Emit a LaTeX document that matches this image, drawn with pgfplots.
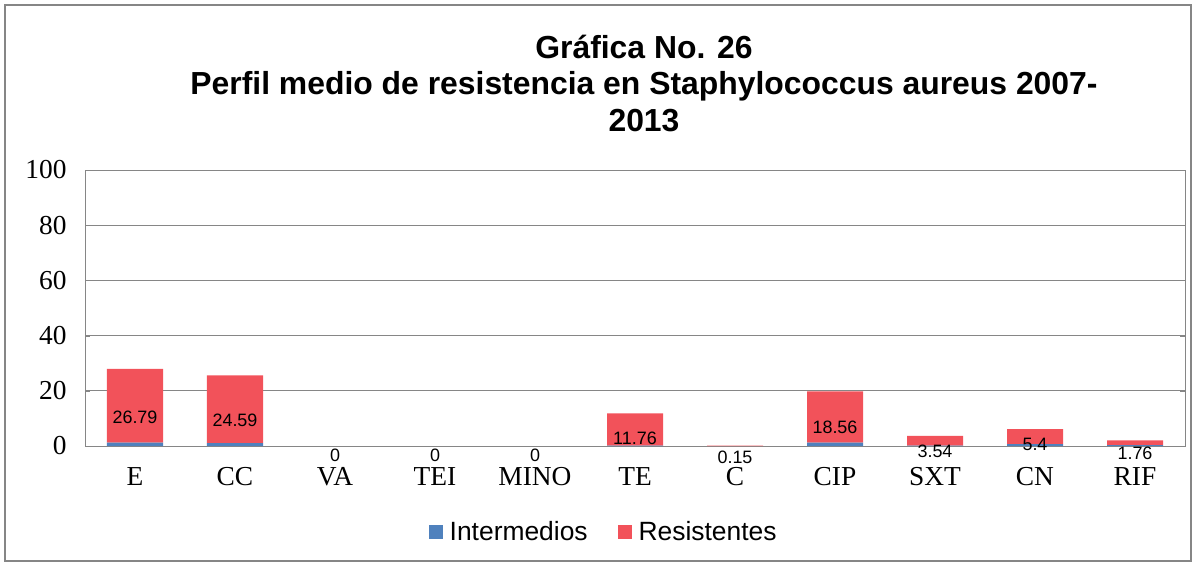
\documentclass[border=0pt]{standalone}
\usepackage{pgfplots}
\pgfplotsset{compat=1.18}
\usepackage{pgfplotstable}
\usepackage{fontspec}
\setmainfont{Liberation Serif}
\newfontfamily\arial{Liberation Sans}
\definecolor{inter}{RGB}{79,129,189}
\definecolor{resis}{RGB}{242,82,90}
\definecolor{gridgray}{RGB}{134,134,134}

\pgfplotstableread{
x inter resis
0 1.2 26.79
1 1.0 24.59
2 0 0
3 0 0
4 0 0
5 0.1 11.76
6 0 0.15
7 1.2 18.56
8 0.1 3.54
9 0.7 5.4
10 0.3 1.76
}\datatab

\pgfplotstableread{
x y lab
0 10.5 26.79
1 9.4 24.59
2 -3.5 0
3 -3.5 0
4 -3.5 0
5 2.9 11.76
6 -4.0 0.15
7 6.9 18.56
8 -1.8 3.54
9 0.4 5.4
10 -2.5 1.76
}\labtab

\begin{document}
\begin{tikzpicture}
\useasboundingbox (0bp,0bp) rectangle (1197bp,-566bp);
\draw[gridgray, line width=1.5bp] (5bp,-5bp) rectangle (1191bp,-561bp);
\node[font=\arial\bfseries\fontsize{32}{36.5}\selectfont, align=center, anchor=base] at (644bp,-131bp)
  {Gráfica No. 26\\Perfil medio de resistencia en Staphylococcus aureus 2007-\\2013};
\begin{axis}[
  at={(85bp,-446bp)}, anchor=south west,
  scale only axis, width=1100bp, height=276bp,
  ybar stacked, bar width=56bp,
  xmin=-0.5, xmax=10.5, ymin=0, ymax=100,
  ytick={0,20,...,100},
  xtick={0,...,10},
  xticklabels={E,CC,VA,TEI,MINO,TE,C,CIP,SXT,CN,RIF},
  /pgf/number format/assume math mode=true,
  tick label style={font=\fontsize{27.5}{30}\selectfont},
  xticklabel style={yshift=-18bp},
  yticklabel style={xshift=-15bp},
  xtick style={draw=none},
  ytick style={draw=gridgray},
  major tick length=5bp,
  ymajorgrids, grid style={gridgray, line width=1bp},
  axis line style={gridgray, line width=1bp},
  legend style={at={(0.4715,-0.312)}, anchor=center, draw=none,
    font=\arial\fontsize{26.5}{30}\selectfont, legend columns=2,
    /tikz/every odd column/.append style={column sep=5bp},
    /tikz/every even column/.append style={column sep=28bp}},
  legend image code/.code={\fill[#1] (0bp,-7bp) rectangle (14bp,7bp);},
  clip=false,
]
\addplot[fill=inter, draw=none] table[x=x, y=inter] {\datatab};
\addlegendentry{Intermedios}
\addplot[fill=resis, draw=none] table[x=x, y=resis] {\datatab};
\addlegendentry{Resistentes}
\end{axis}
\begin{axis}[
  at={(85bp,-446bp)}, anchor=south west,
  scale only axis, width=1100bp, height=276bp,
  xmin=-0.5, xmax=10.5, ymin=0, ymax=100,
  hide axis, clip=false,
]
\addplot[draw=none, mark=none, nodes near coords, point meta=explicit symbolic,
  nodes near coords align=center,
  every node near coord/.append style={font=\arial\fontsize{18}{20}\selectfont, anchor=center}]
  table[x=x, y=y, meta=lab] {\labtab};
\end{axis}
\end{tikzpicture}
\end{document}
